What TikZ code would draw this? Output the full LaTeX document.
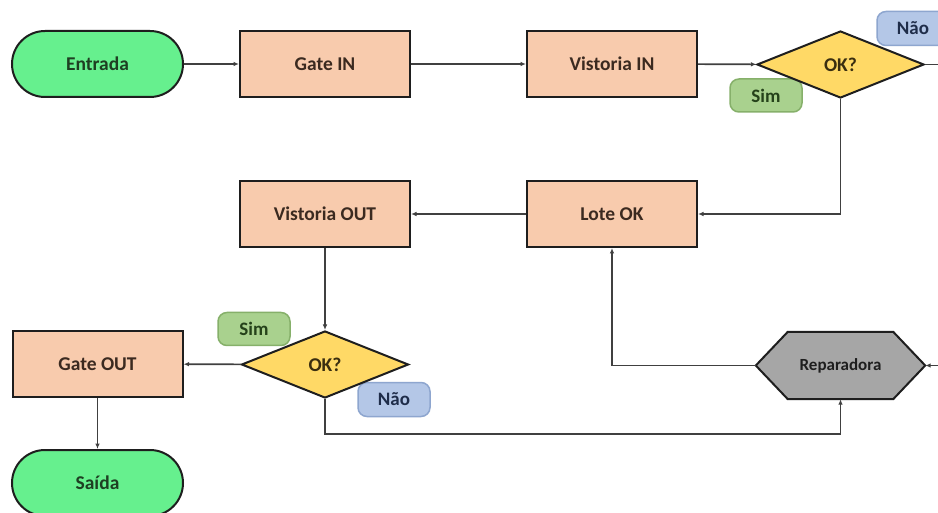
\documentclass[tikz,border=0pt]{standalone}
\usepackage{fontspec}
\setmainfont{Carlito}
\usetikzlibrary{arrows.meta,shapes.geometric}
\definecolor{termfill}{HTML}{66F08E}
\definecolor{termtext}{HTML}{1E3F22}
\definecolor{procfill}{HTML}{F8CBAD}
\definecolor{proctext}{HTML}{3B2A20}
\definecolor{decfill}{HTML}{FFD966}
\definecolor{dectext}{HTML}{3A2E10}
\definecolor{simfill}{HTML}{A9D18E}
\definecolor{simdraw}{HTML}{86B06A}
\definecolor{simtext}{HTML}{25421A}
\definecolor{naofill}{HTML}{B4C7E7}
\definecolor{naodraw}{HTML}{8EA6CF}
\definecolor{naotext}{HTML}{1F2D4A}
\definecolor{repfill}{HTML}{A6A6A6}
\definecolor{borderc}{HTML}{1E1E1E}
\definecolor{linec}{HTML}{404040}
\tikzset{
  base/.style={draw=borderc, line width=2pt, inner sep=0pt, font=\fontsize{19.5}{21}\selectfont\bfseries},
  terminal/.style={base, fill=termfill, text=termtext, rounded corners=33pt, minimum width=171pt, minimum height=66pt},
  process/.style={base, fill=procfill, text=proctext, minimum width=170pt, minimum height=66pt},
  decision/.style={base, diamond, fill=decfill, text=dectext, minimum width=167pt, minimum height=67pt},
  simlabel/.style={draw=simdraw, line width=1.5pt, fill=simfill, text=simtext, rounded corners=9pt, minimum width=72pt, minimum height=33pt, inner sep=0pt, font=\fontsize{19}{21}\selectfont\bfseries},
  naolabel/.style={draw=naodraw, line width=1.5pt, fill=naofill, text=naotext, rounded corners=9pt, minimum width=72pt, minimum height=34pt, inner sep=0pt, font=\fontsize{19}{21}\selectfont\bfseries},
  conn/.style={draw=linec, line width=1.6pt, -{Latex[length=5.5pt,width=4.5pt]}},
  plainline/.style={draw=linec, line width=1.6pt}
}
\begin{document}
\begin{tikzpicture}[x=1pt,y=-1pt]
\useasboundingbox (0,0) rectangle (938,513);
\fill[white] (0,0) rectangle (938,513);
% labels
\node[naolabel] (nao1) at (913,28.5) {Não};
\node[simlabel] (sim1) at (766,95.5) {Sim};
\node[simlabel] (sim2) at (254,329) {Sim};
\node[naolabel] (nao2) at (394,399.5) {Não};
% nodes
\node[terminal] (entrada) at (97.5,64) {Entrada};
\node[process] (gatein) at (325,64) {Gate IN};
\node[process] (vistin) at (612,64) {Vistoria IN};
\node[decision] (ok1) at (840.5,64.5) {OK?};
\node[process] (lote) at (612,214) {Lote OK};
\node[process] (vistout) at (325,214) {Vistoria OUT};
\node[decision] (ok2) at (325,364.5) {OK?};
\node[process] (gateout) at (97.5,364) {Gate OUT};
\node[terminal] (saida) at (97.5,483) {Saída};
% Reparadora hexagon
\node[inner sep=0pt, minimum width=169pt, minimum height=67pt] (rep) at (840.5,365.5) {};
\draw[borderc, line width=2pt, fill=repfill] (rep.west) -- ([xshift=32pt]rep.north west) -- ([xshift=-32pt]rep.north east) -- (rep.east) -- ([xshift=-32pt]rep.south east) -- ([xshift=32pt]rep.south west) -- cycle;
\node[font=\fontsize{17}{19}\selectfont\bfseries, text=borderc] (replabel) at (rep.center) {Reparadora};
% free ends
\coordinate (edge1) at (940,64.5);
\coordinate (edge2) at (940,365.5);
\coordinate (bottomrow) at (0,434);
% connectors
\draw[conn] (entrada) -- (gatein);
\draw[conn] (gatein) -- (vistin);
\draw[conn] (vistin) -- (ok1);
\draw[plainline] (ok1.east) -- (edge1);
\draw[conn] (ok1.south) |- (lote.east);
\draw[conn] (lote) -- (vistout);
\draw[conn] (vistout) -- (ok2);
\draw[conn] (ok2) -- (gateout);
\draw[conn] (gateout) -- (saida);
\draw[conn] (ok2.south) -- (ok2.south |- bottomrow) -| (rep.south);
\draw[conn] (rep.west) -| (lote.south);
\draw[conn] (edge2) -- (rep.east);
\end{tikzpicture}
\end{document}
